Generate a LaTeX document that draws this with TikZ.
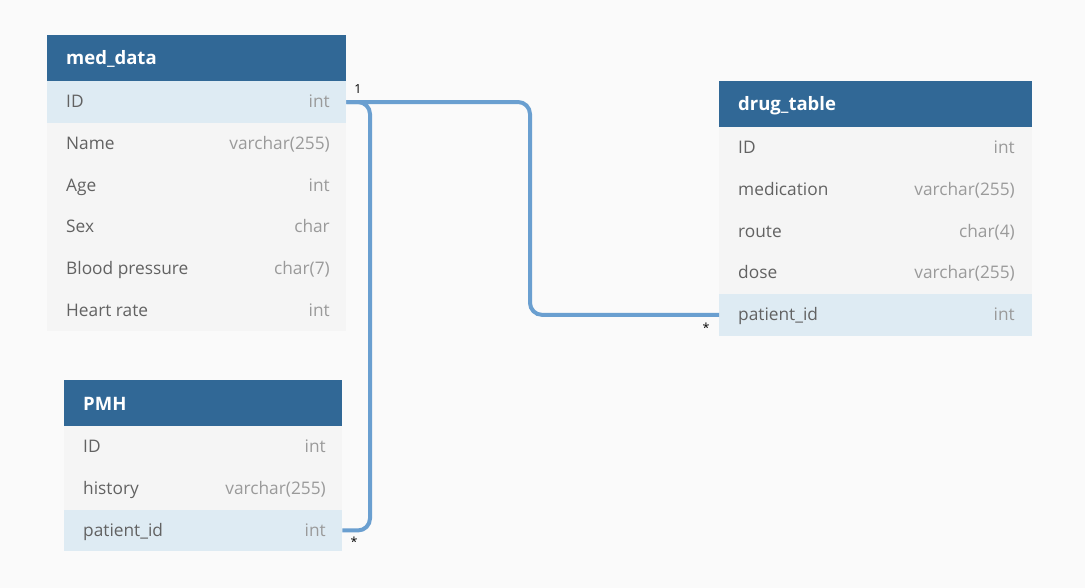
\documentclass[tikz,border=0pt]{standalone}
\usepackage{fontspec}
\setmainfont{Open Sans}
\definecolor{bg}{HTML}{FAFAFA}
\definecolor{hdrblue}{HTML}{316896}
\definecolor{rowgray}{HTML}{F5F5F5}
\definecolor{rowblue}{HTML}{DEEBF3}
\definecolor{namegray}{HTML}{626262}
\definecolor{typegray}{HTML}{9A9A9A}
\definecolor{relblue}{HTML}{6A9FD0}
\tikzset{
  hdr/.style={rectangle, fill=hdrblue, draw=none, anchor=north west, inner sep=0pt, minimum height=46pt},
  rowbox/.style={rectangle, fill=rowgray, draw=none, anchor=north west, inner sep=0pt, minimum height=41.7pt},
  keybox/.style={rowbox, fill=rowblue},
  htext/.style={anchor=base west, text=white, font=\fontsize{18.5}{22}\selectfont\bfseries, inner sep=0pt},
  fname/.style={anchor=base west, text=namegray, font=\fontsize{17.3}{20}\selectfont, inner sep=0pt},
  ftype/.style={anchor=base east, text=typegray, font=\fontsize{17.3}{20}\selectfont, inner sep=0pt},
  rel/.style={draw=relblue, line width=4pt, rounded corners=12pt},
  card/.style={font=\fontsize{12.5}{14}\selectfont, text=black, inner sep=0pt}
}
\begin{document}
\begin{tikzpicture}[x=1pt,y=-1pt]
\fill[bg] (0,0) rectangle (1085,588);
\useasboundingbox (0,0) rectangle (1085,588);

% med_data
\node[hdr, minimum width=299pt] (mdh) at (47,35) {};
\node[htext] (mdht) at (66,65) {med\_data};
\node[keybox, minimum width=299pt] (md1) at (47,81) {};
\node[rowbox, minimum width=299pt] (md2) at (47,122.7) {};
\node[rowbox, minimum width=299pt] (md3) at (47,164.4) {};
\node[rowbox, minimum width=299pt] (md4) at (47,206.1) {};
\node[rowbox, minimum width=299pt] (md5) at (47,247.8) {};
\node[rowbox, minimum width=299pt] (md6) at (47,289.5) {};
\node[fname] (md1n) at (66,107.9) {ID};
\node[ftype] (md1t) at (330,107.9) {int};
\node[fname] (md2n) at (66,149.5) {Name};
\node[ftype] (md2t) at (330,149.5) {varchar(255)};
\node[fname] (md3n) at (66,191.3) {Age};
\node[ftype] (md3t) at (330,191.3) {int};
\node[fname] (md4n) at (66,233) {Sex};
\node[ftype] (md4t) at (330,233) {char};
\node[fname] (md5n) at (66,274.7) {Blood pressure};
\node[ftype] (md5t) at (330,274.7) {char(7)};
\node[fname] (md6n) at (66,316.4) {Heart rate};
\node[ftype] (md6t) at (330,316.4) {int};

% PMH
\node[hdr, minimum width=278pt] (pmh) at (64,380) {};
\node[htext] (pmht) at (83,410) {PMH};
\node[rowbox, minimum width=278pt] (pm1) at (64,426) {};
\node[rowbox, minimum width=278pt] (pm2) at (64,467.7) {};
\node[keybox, minimum width=278pt] (pm3) at (64,509.4) {};
\node[fname] (pm1n) at (83,452.9) {ID};
\node[ftype] (pm1t) at (326,452.9) {int};
\node[fname] (pm2n) at (83,494.6) {history};
\node[ftype] (pm2t) at (326,494.6) {varchar(255)};
\node[fname] (pm3n) at (83,536.3) {patient\_id};
\node[ftype] (pm3t) at (326,536.3) {int};

% drug_table
\node[hdr, minimum width=313pt] (dth) at (719,81) {};
\node[htext] (dtht) at (738,111) {drug\_table};
\node[rowbox, minimum width=313pt] (dt1) at (719,127) {};
\node[rowbox, minimum width=313pt] (dt2) at (719,168.7) {};
\node[rowbox, minimum width=313pt] (dt3) at (719,210.4) {};
\node[rowbox, minimum width=313pt] (dt4) at (719,252.1) {};
\node[keybox, minimum width=313pt] (dt5) at (719,293.8) {};
\node[fname] (dt1n) at (738,153.9) {ID};
\node[ftype] (dt1t) at (1015,153.9) {int};
\node[fname] (dt2n) at (738,195.6) {medication};
\node[ftype] (dt2t) at (1015,195.6) {varchar(255)};
\node[fname] (dt3n) at (738,237.3) {route};
\node[ftype] (dt3t) at (1015,237.3) {char(4)};
\node[fname] (dt4n) at (738,279) {dose};
\node[ftype] (dt4t) at (1015,279) {varchar(255)};
\node[fname] (dt5n) at (738,320.7) {patient\_id};
\node[ftype] (dt5t) at (1015,320.7) {int};

% relations
\coordinate (k1) at (530,102);
\coordinate (k2) at (370,102);
\draw[rel] (md1.east) -- (k1) |- (dt5.west);
\draw[rel] (md1.east) -- (k2) |- (pm3.east);

\node[card] (c1) at (358,89) {1};
\node[card] (c2) at (706,328) {*};
\node[card] (c3) at (354,542) {*};
\end{tikzpicture}
\end{document}
